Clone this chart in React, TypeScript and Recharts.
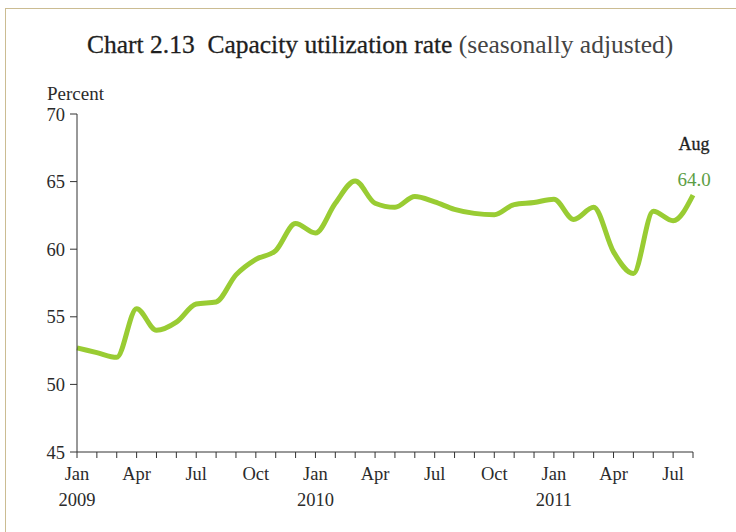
import React from 'react';
import { LineChart, Line, XAxis, YAxis, LabelList } from 'recharts';

const years = ['2009', '2010', '2011'];
const monthNames = ['Jan', 'Feb', 'Mar', 'Apr', 'May', 'Jun', 'Jul', 'Aug', 'Sep', 'Oct', 'Nov', 'Dec'];
const shownMonths = ['Jan', 'Apr', 'Jul', 'Oct'];

// capacity utilization, percent, Jan 2009 - Aug 2011
const rate2009 = [52.7, 52.35, 52.0, 55.6, 54.0, 54.6, 55.95, 56.1, 58.1, 59.25, 59.9, 61.9];
const rate2010 = [61.2, 63.4, 65.05, 63.4, 63.1, 63.9, 63.5, 62.95, 62.65, 62.55, 63.3, 63.45];
const rate2011 = [63.7, 62.2, 63.1, 59.8, 58.2, 62.8, 62.1, 64.0];

const yTicks = [45, 50, 55, 60, 65, 70];

const FONT = '"Liberation Serif", "Times New Roman", serif';
const TEXT = '#2b2b2b';

const data = [rate2009, rate2010, rate2011].flatMap((vals, yi) =>
  vals.map((v, mi) => ({ key: `${monthNames[mi]} ${years[yi]}`, month: monthNames[mi], year: years[yi], rate: v }))
);
const lastIndex = data.length - 1;

const MonthTick = (props: any) => {
  const { x, payload } = props;
  const d = data[payload.index];
  if (!d) return null;
  return (
    <g>
      {shownMonths.includes(d.month) && (
        <text x={x} y={480} textAnchor="middle" fontFamily={FONT} fontSize={18.5} fill={TEXT}>
          {d.month}
        </text>
      )}
      {d.month === 'Jan' && (
        <text x={x} y={506} textAnchor="middle" fontFamily={FONT} fontSize={18.5} fill={TEXT}>
          {d.year}
        </text>
      )}
    </g>
  );
};

const EndLabel = (props: any) => {
  const { x, y, index, value } = props;
  if (index !== lastIndex) return null;
  const d = data[lastIndex];
  return (
    <g>
      <text x={x + 1} y={y - 45} textAnchor="middle" fontFamily={FONT} fontSize={18} fill="#222" stroke="#222" strokeWidth={0.3}>
        {d.month}
      </text>
      <text x={x + 1} y={y - 9} textAnchor="middle" fontFamily={FONT} fontSize={19} fill="#5c9e44">
        {Number(value).toFixed(1)}
      </text>
    </g>
  );
};

export default function App() {
  return (
    <div style={{ position: 'absolute', left: 0, top: 0, width: 736, height: 532, overflow: 'hidden', background: '#fff' }}>
      <div style={{ position: 'absolute', left: 5, top: 8, width: 800, height: 600, borderLeft: '1.5px solid #cbbc92', borderTop: '1.5px solid #cbbc92' }} />
      <div style={{ position: 'absolute', left: 87, top: 32, fontFamily: FONT, fontSize: 25.5, lineHeight: 1, whiteSpace: 'pre', color: '#1e1e1e' }}>
        <span style={{ WebkitTextStroke: '0.3px #1e1e1e' }}>Chart 2.13  Capacity utilization rate</span>
        <span style={{ color: '#444' }}> (seasonally adjusted)</span>
      </div>
      <div style={{ position: 'absolute', left: 47, top: 84, fontFamily: FONT, fontSize: 19, lineHeight: 1, color: TEXT }}>
        Percent
      </div>
      <div style={{ position: 'absolute', left: 0, top: 0 }}>
        <LineChart width={736} height={532} data={data} margin={{ top: 114, right: 43, bottom: 50, left: 37 }}>
          <XAxis
            dataKey="key"
            interval={0}
            tickSize={6}
            height={30}
            stroke="#333"
            tick={<MonthTick />}
          />
          <YAxis
            domain={[45, 70]}
            ticks={yTicks}
            width={40}
            tickSize={7}
            tickMargin={5}
            stroke="#333"
            tick={{ fontFamily: FONT, fontSize: 18.5, fill: TEXT }}
          />
          <Line
            type="monotone"
            dataKey="rate"
            stroke="#99cc33"
            strokeWidth={5}
            dot={false}
            isAnimationActive={false}
          >
            <LabelList dataKey="rate" content={<EndLabel />} />
          </Line>
        </LineChart>
      </div>
    </div>
  );
}
